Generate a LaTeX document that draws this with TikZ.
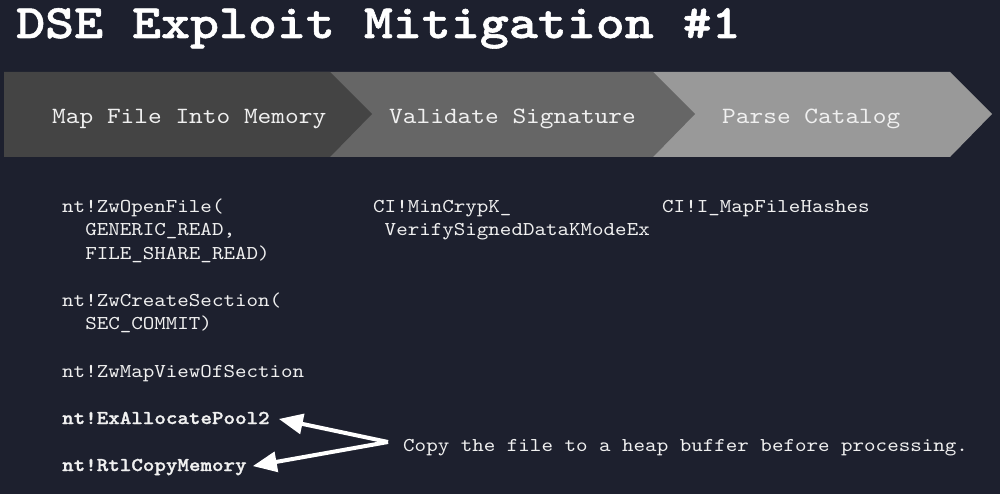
\documentclass[tikz,border=0pt]{standalone}
\usepackage{fontspec}
\newfontfamily\codefont{lmmono10-regular}[Extension=.otf, FakeStretch=1.12, BoldFont=lmmonolt10-bold]
\newfontfamily\boldcode{lmmonolt10-bold}[Extension=.otf, FakeStretch=1.12, FakeBold=1.2]
\newfontfamily\titlefont{lmmonolt10-bold}[Extension=.otf, FakeStretch=1.15, FakeBold=1.2]
\usetikzlibrary{arrows.meta}
\definecolor{bgcol}{RGB}{29,32,46}
\definecolor{chevA}{RGB}{68,68,68}
\definecolor{chevB}{RGB}{102,102,102}
\definecolor{chevC}{RGB}{153,153,153}
\definecolor{txtcol}{RGB}{240,240,240}
\begin{document}
\begin{tikzpicture}[x=1pt,y=-1pt,
  codetxt/.style={anchor=base west,inner sep=0pt,text=txtcol,font=\codefont\fontsize{19.6}{23.3}\selectfont},
  boldtxt/.style={codetxt,font=\boldcode\fontsize{19.6}{23.3}\selectfont},
  headtxt/.style={anchor=base west,inner sep=0pt,text=txtcol,font=\codefont\fontsize{23.3}{26}\selectfont},
  titletxt/.style={anchor=base west,inner sep=0pt,text=white,font=\titlefont\fontsize{48}{52}\selectfont},
  pointer/.style={draw=white,line width=4pt,-{Triangle[length=24pt,width=20pt]}}]
\fill[bgcol] (0,0) rectangle (1000,494);
\useasboundingbox (0,0) rectangle (1000,494);
% chevrons (back to front)
\fill[chevC] (620,72) -- (950,72) -- (992,114) -- (950,157) -- (620,157) -- cycle;
\fill[chevB] (300,72) -- (653,72) -- (695,114) -- (653,157) -- (300,157) -- cycle;
\fill[chevA] (4,72) -- (330,72) -- (372,114) -- (330,157) -- (4,157) -- cycle;
% title
\node[titletxt] (title) at (16,38) {DSE Exploit Mitigation \#1};
% headers
\node[headtxt] (h1) at (52,124) {Map File Into Memory};
\node[headtxt] (h2) at (389,124) {Validate Signature};
\node[headtxt] (h3) at (722,124) {Parse Catalog};
% column 1
\node[codetxt] (c1a) at (62,213) {nt!ZwOpenFile(};
\node[codetxt] (c1b) at (62,236) {\ \ GENERIC\_READ,};
\node[codetxt] (c1c) at (62,259) {\ \ FILE\_SHARE\_READ)};
\node[codetxt] (c1d) at (62,306) {nt!ZwCreateSection(};
\node[codetxt] (c1e) at (62,329) {\ \ SEC\_COMMIT)};
\node[codetxt] (c1f) at (62,377) {nt!ZwMapViewOfSection};
\node[boldtxt] (pool) at (62,424) {nt!ExAllocatePool2};
\node[boldtxt] (copy) at (62,471) {nt!RtlCopyMemory};
% column 2
\node[codetxt] (c2a) at (373,213) {CI!MinCrypK\_};
\node[codetxt] (c2b) at (373,236) {\ VerifySignedDataKModeEx};
% column 3
\node[codetxt] (c3a) at (662,213) {CI!I\_MapFileHashes};
% note
\node[codetxt] (note) at (403,451) {Copy the file to a heap buffer before processing.};
\coordinate (join) at (388,442);
\draw[pointer] (join) -- ([xshift=9pt,yshift=-1pt]pool.east);
\draw[pointer] (join) -- ([xshift=6pt,yshift=1pt]copy.east);
\end{tikzpicture}
\end{document}
